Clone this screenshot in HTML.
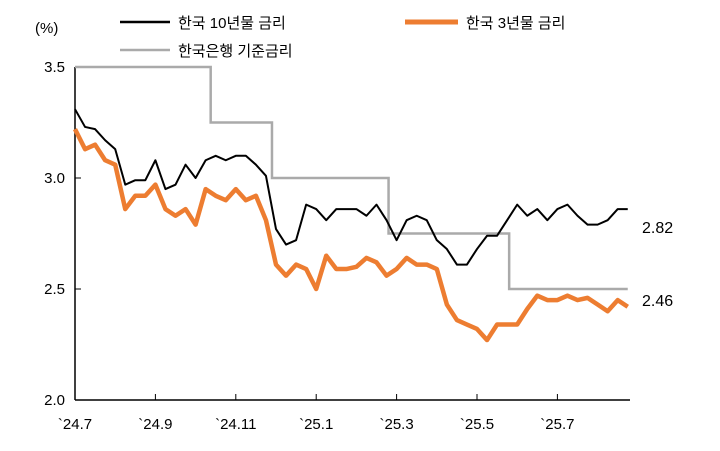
<!DOCTYPE html>
<html><head><meta charset="utf-8"><style>
body{margin:0;background:#fff;}
svg{display:block;font-family:"Liberation Sans","Noto Sans CJK KR",sans-serif;}
</style></head><body>
<svg id="chart" width="720" height="451">
<text x="35" y="33" font-size="15">(%)</text>
<g>
<line x1="120" y1="22" x2="170" y2="22" stroke="#000" stroke-width="2.5"/>
<text x="178" y="28" font-size="15">한국 10년물 금리</text>
<line x1="405" y1="22" x2="458" y2="22" stroke="#ED7D31" stroke-width="5"/>
<text x="466" y="28" font-size="15">한국 3년물 금리</text>
<line x1="120" y1="50" x2="170" y2="50" stroke="#AAAAAA" stroke-width="2.5"/>
<text x="178" y="56" font-size="15">한국은행 기준금리</text>
</g>
<g id="axes"></g>
<g id="series"></g>
</svg>
<script>
const tickLabels=["`24.7","`24.9","`24.11","`25.1","`25.3","`25.5","`25.7"];
const yTicks=[2.0,2.5,3.0,3.5];
const series10y=[3.31,3.23,3.22,3.17,3.13,2.97,2.99,2.99,3.08,2.95,2.97,3.06,3.0,3.08,3.10,3.08,3.10,3.10,3.06,3.01,2.77,2.70,2.72,2.88,2.86,2.81,2.86,2.86,2.86,2.83,2.88,2.81,2.72,2.81,2.83,2.81,2.72,2.68,2.61,2.61,2.68,2.74,2.74,2.81,2.88,2.83,2.86,2.81,2.86,2.88,2.83,2.79,2.79,2.81,2.86,2.86];
const series3y=[3.22,3.13,3.15,3.08,3.06,2.86,2.92,2.92,2.97,2.86,2.83,2.86,2.79,2.95,2.92,2.90,2.95,2.90,2.92,2.81,2.61,2.56,2.61,2.59,2.50,2.65,2.59,2.59,2.60,2.64,2.62,2.56,2.59,2.64,2.61,2.61,2.59,2.43,2.36,2.34,2.32,2.27,2.34,2.34,2.34,2.41,2.47,2.45,2.45,2.47,2.45,2.46,2.43,2.40,2.45,2.42];
const baseMonths=[0,3.375,4.9,7.8,10.8,13.75];
const baseRates=[3.5,3.25,3.0,2.75,2.5];
const endLabels=["2.82","2.46"];
const NS="http://www.w3.org/2000/svg";
const x0=75,pxPerMonth=40.2,step=0.25;
const xs=m=>x0+m*pxPerMonth;
const ys=v=>67+(3.5-v)*222;
const ax=document.getElementById('axes'),sg=document.getElementById('series');
function mk(tag,attrs,parent){const e=document.createElementNS(NS,tag);for(const k in attrs)e.setAttribute(k,attrs[k]);parent.appendChild(e);return e;}
let e=mk('line',{x1:x0,y1:67,x2:x0,y2:400,stroke:'#000','stroke-width':1.5},ax);


e=mk('line',{x1:x0,y1:400,x2:630,y2:400,stroke:'#000','stroke-width':1.5},ax);


yTicks.forEach(v=>{
 const t=mk('line',{x1:x0,y1:ys(v),x2:x0+6,y2:ys(v),stroke:'#000','stroke-width':1},ax);
 
 
 const l=mk('text',{x:x0-10,y:ys(v)+5,'font-size':15,'text-anchor':'end'},ax);
 l.textContent=v.toFixed(1);
 
 
});
tickLabels.forEach((s,i)=>{
 const x=xs(i*2);
 const t=mk('line',{x1:x,y1:400,x2:x,y2:394,stroke:'#000','stroke-width':1},ax);
 
 
 const l=mk('text',{x:x,y:429,'font-size':15,'text-anchor':'middle'},ax);
 l.textContent=s;
 
 
});
let bp=[];
baseRates.forEach((r,i)=>{bp.push(xs(baseMonths[i])+','+ys(r));bp.push(xs(baseMonths[i+1])+','+ys(r));});
e=mk('polyline',{points:bp.join(' '),fill:'none',stroke:'#AAAAAA','stroke-width':2.5},sg);


function line(arr,color,w,name){
 const p=mk('polyline',{points:arr.map((v,i)=>xs(i*step)+','+ys(v)).join(' '),fill:'none',stroke:color,'stroke-width':w,'stroke-linejoin':'round'},sg);
 
 
}
line(series3y,'#ED7D31',4.5,'line-3y');
line(series10y,'#000',2,'line-10y');
e=mk('text',{x:642,y:233,'font-size':16},sg);
e.textContent=endLabels[0];


e=mk('text',{x:642,y:306,'font-size':16},sg);
e.textContent=endLabels[1];


</script>
</body></html>
